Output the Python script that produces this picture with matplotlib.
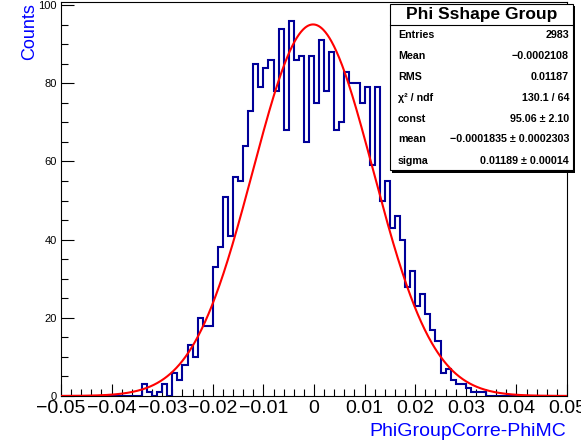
import numpy as np
import matplotlib
matplotlib.use("Agg")
import matplotlib.pyplot as plt
from matplotlib.patches import Rectangle
from matplotlib.lines import Line2D
from matplotlib.ticker import FixedLocator, MultipleLocator, FuncFormatter

# ---------------- data ----------------
x_min, x_max, n_bins = -0.05, 0.05, 100
counts = [0] * 16 + [
    3, 1, 0, 1, 3, 0, 6, 4, 8, 13, 10, 20, 18, 18,          # bins 16-29
    33, 38, 51, 41, 56, 55, 64, 73, 85, 79,                 # bins 30-39
    84, 86, 78, 94, 68, 96, 86, 87, 65, 87,                 # bins 40-49
    75, 91, 78, 88, 68, 70, 83, 80, 80, 75,                 # bins 50-59
    79, 59, 79, 50, 55, 43, 46, 40, 28, 32,                 # bins 60-69
    23, 26, 21, 17, 14, 6, 7, 4, 3, 3,                      # bins 70-79
    2, 1, 1, 1,                                             # bins 80-83
] + [0] * 16

fit_const, fit_mean, fit_sigma = 95.06, -0.0001835, 0.01189

x_ticks = [-0.05, -0.04, -0.03, -0.02, -0.01, 0.0, 0.01, 0.02, 0.03, 0.04, 0.05]
y_ticks = [0, 20, 40, 60, 80, 100]

stats_title = "Phi Sshape Group"
stats_names = ["Entries", "Mean", "RMS", "χ² / ndf", "const", "mean", "sigma"]
stats_values = ["2983", "\u22120.0002108", "0.01187", "130.1 / 64",
                "95.06 \u00b1 2.10", "\u22120.0001835 \u00b1 0.0002303",
                "0.01189 \u00b1 0.00014"]

# ---------------- figure ----------------
W, H = 581, 440
plt.rcParams['font.family'] = ['Liberation Sans', 'DejaVu Sans']
fig = plt.figure(figsize=(W / 100, H / 100), dpi=100)

def fx(px):
    return px / W

def fy(py):
    return 1 - py / H

ax_l, ax_r, ax_t, ax_b = 61, 567, 2, 396
ax = fig.add_axes([fx(ax_l), fy(ax_b), (ax_r - ax_l) / W, (ax_b - ax_t) / H])

edges = np.linspace(x_min, x_max, n_bins + 1)
ax.stairs(counts, edges, color='#000099', linewidth=1.5, baseline=0, zorder=2)

xf = np.linspace(x_min, x_max, 1000)
yf = fit_const * np.exp(-0.5 * ((xf - fit_mean) / fit_sigma) ** 2)
ax.plot(xf, yf, color='#ff0000', linewidth=1.5, zorder=3)

ax.set_xlim(x_min, x_max)
ax.set_ylim(0, 100.8)

ax.xaxis.set_major_locator(FixedLocator(x_ticks))
ax.xaxis.set_minor_locator(MultipleLocator(0.002))
ax.yaxis.set_major_locator(FixedLocator(y_ticks))
ax.yaxis.set_minor_locator(MultipleLocator(5))

def xfmt(v, pos):
    if abs(v) < 1e-12:
        return "0"
    s = f"{v:.2f}"
    return s.replace("-", "\u2212")

ax.xaxis.set_major_formatter(FuncFormatter(xfmt))
ax.yaxis.set_major_formatter(FuncFormatter(lambda v, p: f"{int(round(v))}"))

ax.tick_params(axis='both', which='both', direction='in', top=False, right=False,
               width=0.8, color='black')
ax.tick_params(axis='both', which='major', length=9)
ax.tick_params(axis='both', which='minor', length=5)
ax.tick_params(axis='x', which='major', labelsize=14, pad=3)
ax.tick_params(axis='y', which='major', labelsize=8, pad=3)
for s in ax.spines.values():
    s.set_linewidth(0.8)

# axis titles
fig.text(fx(30), fy(3), "Counts", rotation=90, ha='center', va='top',
         color='#0000ff', fontsize=13)
fig.text(fx(566), fy(436), "PhiGroupCorre-PhiMC", ha='right', va='baseline',
         color='#0000ff', fontsize=14)

# stats box
bx_l, bx_r, bx_t, bx_b = 390, 573, 4, 170.5
fig.add_artist(Rectangle((fx(bx_l + 2), fy(bx_b + 2)), (bx_r - bx_l) / W, (bx_b - bx_t) / H,
                         transform=fig.transFigure, facecolor='black', edgecolor='none',
                         zorder=9))
fig.add_artist(Rectangle((fx(bx_l), fy(bx_b)), (bx_r - bx_l) / W, (bx_b - bx_t) / H,
                         transform=fig.transFigure, facecolor='white', edgecolor='black',
                         linewidth=0.8, zorder=10))
fig.add_artist(Line2D([fx(bx_l), fx(bx_r)], [fy(25), fy(25)], transform=fig.transFigure,
                      color='black', linewidth=0.8, zorder=11))
fig.text(fx((bx_l + bx_r) / 2), fy(14.5), stats_title, ha='center', va='center',
         fontsize=12.5, fontweight='bold', zorder=12)
row_y = [35, 56, 77.3, 98.3, 119, 139.3, 160.5]
for name, val, yy in zip(stats_names, stats_values, row_y):
    fig.text(fx(398), fy(yy), name, ha='left', va='center', fontsize=7.7,
             fontweight='bold', zorder=12)
    fig.text(fx(569), fy(yy), val, ha='right', va='center', fontsize=7.7,
             fontweight='bold', zorder=12)

fig.savefig("out.png", dpi=100)
